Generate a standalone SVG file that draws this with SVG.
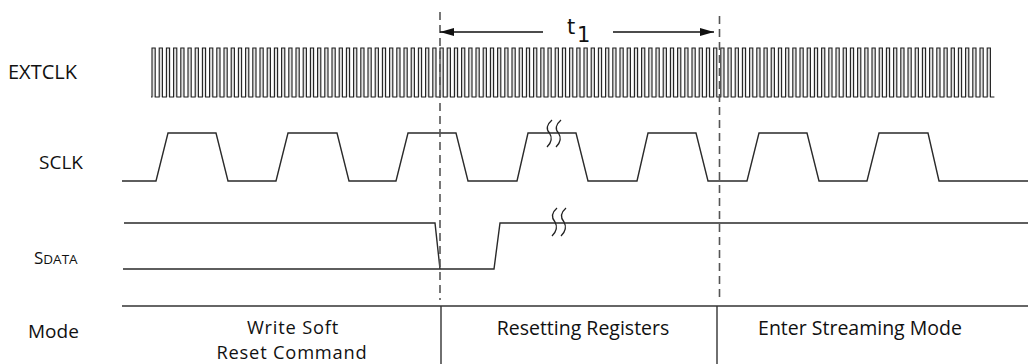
<svg xmlns="http://www.w3.org/2000/svg" width="1029" height="364" viewBox="0 0 1029 364">
<defs>
<style>
.lbl{font-family:"Open Sans","Noto Sans","Liberation Sans",sans-serif;fill:#111;}
.wave{fill:none;stroke:#2a2a2a;stroke-width:1.4;stroke-linejoin:miter;}
.dash{fill:none;stroke:#555;stroke-width:1.6;stroke-dasharray:8 5;}
.solid{fill:none;stroke:#333;stroke-width:1.4;}
.brk{fill:none;stroke:#222;stroke-width:1.3;}
</style>
<marker id="ah" viewBox="0 0 14 8" refX="14" refY="4" markerWidth="14" markerHeight="8" markerUnits="userSpaceOnUse" orient="auto-start-reverse">
<path d="M0,0 L14,4 L0,8 Z" fill="#111"/>
</marker>
</defs>
<rect width="1029" height="364" fill="#fff"/>

<g id="labels">
<text class="lbl" x="8" y="79" font-size="20">EXTCLK</text>
<text class="lbl" x="39" y="169" font-size="19">SCLK</text>
<text class="lbl" x="34" y="264" font-size="17">S<tspan font-size="13.5">DATA</tspan></text>
<text class="lbl" x="28" y="338" font-size="19">Mode</text>
</g>

<g id="extclk">
<path d="M151,97H152
v-49h3.2v49h4 v-49h3.2v49h4 v-49h3.2v49h4 v-49h3.2v49h4 v-49h3.2v49h4 v-49h3.2v49h4 v-49h3.2v49h4 v-49h3.2v49h4 v-49h3.2v49h4 v-49h3.2v49h4
v-49h3.2v49h4 v-49h3.2v49h4 v-49h3.2v49h4 v-49h3.2v49h4 v-49h3.2v49h4 v-49h3.2v49h4 v-49h3.2v49h4 v-49h3.2v49h4 v-49h3.2v49h4 v-49h3.2v49h4
v-49h3.2v49h4 v-49h3.2v49h4 v-49h3.2v49h4 v-49h3.2v49h4 v-49h3.2v49h4 v-49h3.2v49h4 v-49h3.2v49h4 v-49h3.2v49h4 v-49h3.2v49h4 v-49h3.2v49h4
v-49h3.2v49h4 v-49h3.2v49h4 v-49h3.2v49h4 v-49h3.2v49h4 v-49h3.2v49h4 v-49h3.2v49h4 v-49h3.2v49h4 v-49h3.2v49h4 v-49h3.2v49h4 v-49h3.2v49h4
v-49h3.2v49h4 v-49h3.2v49h4 v-49h3.2v49h4 v-49h3.2v49h4 v-49h3.2v49h4 v-49h3.2v49h4 v-49h3.2v49h4 v-49h3.2v49h4 v-49h3.2v49h4 v-49h3.2v49h4
v-49h3.2v49h4 v-49h3.2v49h4 v-49h3.2v49h4 v-49h3.2v49h4 v-49h3.2v49h4 v-49h3.2v49h4 v-49h3.2v49h4 v-49h3.2v49h4 v-49h3.2v49h4 v-49h3.2v49h4
v-49h3.2v49h4 v-49h3.2v49h4 v-49h3.2v49h4 v-49h3.2v49h4 v-49h3.2v49h4 v-49h3.2v49h4 v-49h3.2v49h4 v-49h3.2v49h4 v-49h3.2v49h4 v-49h3.2v49h4
v-49h3.2v49h4 v-49h3.2v49h4 v-49h3.2v49h4 v-49h3.2v49h4 v-49h3.2v49h4 v-49h3.2v49h4 v-49h3.2v49h4 v-49h3.2v49h4 v-49h3.2v49h4 v-49h3.2v49h4
v-49h3.2v49h4 v-49h3.2v49h4 v-49h3.2v49h4 v-49h3.2v49h4 v-49h3.2v49h4 v-49h3.2v49h4 v-49h3.2v49h4 v-49h3.2v49h4 v-49h3.2v49h4 v-49h3.2v49h4
v-49h3.2v49h4 v-49h3.2v49h4 v-49h3.2v49h4 v-49h3.2v49h4 v-49h3.2v49h4 v-49h3.2v49h4 v-49h3.2v49h4 v-49h3.2v49h4 v-49h3.2v49h4 v-49h3.2v49h4
v-49h3.2v49h4 v-49h3.2v49h4 v-49h3.2v49h4 v-49h3.2v49h4 v-49h3.2v49h4 v-49h3.2v49h4 v-49h3.2v49h4 v-49h3.2v49h4 v-49h3.2v49h4 v-49h3.2v49h4
v-49h3.2v49h4 v-49h3.2v49h4 v-49h3.2v49h4 v-49h3.2v49h4 v-49h3.2v49h4 v-49h3.2v49h4 v-49h3.2v49h4" fill="#e2e2e2" stroke="#1e1e1e" stroke-width="1.1"/>
</g>

<g id="sclk">
<path class="wave" d="M122,181H156L168,133H216L228,181H276L288,133H337L349,181H396L408,133H456L468,181H517L528,133H576L588,181H637L648,133H696L708,181H747L759,133H807L819,181H867L879,133H928L939,181H1028"/>
<path class="brk" d="M552,120Q544,127 549.5,133Q554,140 547,147M561,120Q553,127 558.5,133Q563,140 556,147"/>
</g>

<g id="sdata">
<path class="wave" d="M124,223H435L440,269"/>
<path class="wave" d="M123,269H494L500,223H1028"/>
<path class="brk" d="M557,208Q549,215 555,222Q559,229 552,236M566,208Q558,215 564,222Q568,229 561,236"/>
</g>

<g id="markers">
<line class="dash" x1="440" y1="12" x2="440" y2="300"/>
<line class="dash" x1="719.5" y1="16" x2="719.5" y2="300"/>
</g>

<g id="t1">
<line x1="440" y1="32" x2="543" y2="32" stroke="#111" stroke-width="1.4" marker-start="url(#ah)"/>
<line x1="613" y1="32" x2="714" y2="32" stroke="#111" stroke-width="1.4" marker-end="url(#ah)"/>
<text x="567" y="34" font-family="DejaVu Sans, sans-serif" font-size="21" fill="#111">t</text>
<text x="577" y="42" font-family="DejaVu Sans, sans-serif" font-size="21" fill="#111">1</text>
</g>

<g id="mode">
<line class="solid" x1="122" y1="306" x2="1028" y2="306"/>
<line class="solid" x1="441" y1="306" x2="441" y2="364"/>
<line class="solid" x1="717" y1="306" x2="717" y2="364"/>
<text class="lbl" x="293" y="334" font-size="18.3" letter-spacing="0.8" text-anchor="middle">Write Soft</text>
<text class="lbl" x="292" y="359" font-size="18.3" letter-spacing="0.8" text-anchor="middle">Reset Command</text>
<text class="lbl" x="583" y="335" font-size="19.5" text-anchor="middle">Resetting Registers</text>
<text class="lbl" x="860" y="335" font-size="19.5" text-anchor="middle">Enter Streaming Mode</text>
</g>
</svg>
